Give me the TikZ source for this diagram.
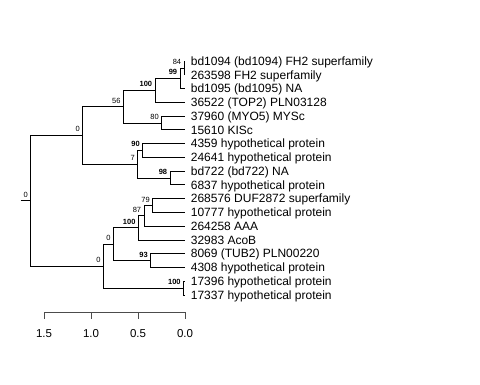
\documentclass[tikz,border=0pt]{standalone}
\usepackage{fontspec}
\setmainfont{Liberation Sans}

\tikzset{
  tiplab/.style={anchor=base west,inner sep=0pt,xshift=5.5pt,yshift=-4.3pt,font=\fontsize{12}{12}\selectfont},
  supp/.style={anchor=base east,inner sep=0pt,xshift=-2.5pt,yshift=3.5pt,font=\fontsize{7.5}{7.5}\selectfont},
  bsupp/.style={supp,font=\fontsize{7.5}{7.5}\selectfont\bfseries},
  axlab/.style={anchor=center,inner sep=0pt,font=\fontsize{11.5}{11.5}\selectfont}
}

\begin{document}
\begin{tikzpicture}[x=1pt,y=-1pt,line width=0.75pt]
    \useasboundingbox (0,0) rectangle (480,384);
    % leaves
    \coordinate (l1) at (185,61);
    \coordinate (l2) at (185,74.8);
    \coordinate (l3) at (185,88.5);
    \coordinate (l4) at (185,102.3);
    \coordinate (l5) at (185,116);
    \coordinate (l6) at (185,129.8);
    \coordinate (l7) at (185,143.6);
    \coordinate (l8) at (185,157.3);
    \coordinate (l9) at (185,171.1);
    \coordinate (l10) at (185,184.8);
    \coordinate (l11) at (185,198.6);
    \coordinate (l12) at (185,212.4);
    \coordinate (l13) at (185,226.1);
    \coordinate (l14) at (185,239.9);
    \coordinate (l15) at (185,253.6);
    \coordinate (l16) at (185,267.4);
    \coordinate (l17) at (185,281.2);
    \coordinate (l18) at (185,294.9);
    % inner nodes
    \coordinate (nE) at (184,67.9);
    \coordinate (nD) at (180,78.2);
    \coordinate (nC) at (155,90.25);
    \coordinate (nF) at (161.7,122.9);
    \coordinate (nB) at (123.3,106.6);
    \coordinate (nH) at (142.7,150.45);
    \coordinate (nI) at (170,177.95);
    \coordinate (nG) at (137.7,164.2);
    \coordinate (nA) at (82.7,135.4);
    \coordinate (nN) at (152.7,205.5);
    \coordinate (nM) at (144,215.8);
    \coordinate (nL) at (138.3,227.85);
    \coordinate (nO) at (150.7,260.5);
    \coordinate (nK) at (113.3,244.2);
    \coordinate (nP) at (183.5,288.05);
    \coordinate (nJ) at (103.3,266.1);
    \coordinate (root) at (30.7,200.75);
    \coordinate (stub) at (20.7,200.75);

    % branches
    \draw (stub) -- (root);
    \draw (root) |- (nA);
    \draw (root) |- (nJ);
    \draw (nA) |- (nB);
    \draw (nA) |- (nG);
    \draw (nB) |- (nC);
    \draw (nB) |- (nF);
    \draw (nC) |- (nD);
    \draw (nC) |- (l4);
    \draw (nD) |- (nE);
    \draw (nD) |- (l3);
    \draw (nE) |- (l1);
    \draw (nE) |- (l2);
    \draw (nF) |- (l5);
    \draw (nF) |- (l6);
    \draw (nG) |- (nH);
    \draw (nG) |- (nI);
    \draw (nH) |- (l7);
    \draw (nH) |- (l8);
    \draw (nI) |- (l9);
    \draw (nI) |- (l10);
    \draw (nJ) |- (nK);
    \draw (nJ) |- (nP);
    \draw (nK) |- (nL);
    \draw (nK) |- (nO);
    \draw (nL) |- (nM);
    \draw (nL) |- (l14);
    \draw (nM) |- (nN);
    \draw (nM) |- (l13);
    \draw (nN) |- (l11);
    \draw (nN) |- (l12);
    \draw (nO) |- (l15);
    \draw (nO) |- (l16);
    \draw (nP) |- (l17);
    \draw (nP) |- (l18);

    % support values
    \node[supp] (sroot) at (root) {0};
    \node[supp] (sA) at (nA) {0};
    \node[supp] (sB) at (nB) {56};
    \node[bsupp] (sC) at (nC) {100};
    \node[bsupp] (sD) at (nD) {99};
    \node[supp] (sE) at (nE) {84};
    \node[supp] (sF) at (nF) {80};
    \node[supp] (sG) at (nG) {7};
    \node[bsupp] (sH) at (nH) {90};
    \node[bsupp] (sI) at (nI) {98};
    \node[supp] (sJ) at (nJ) {0};
    \node[supp] (sK) at (nK) {0};
    \node[bsupp] (sL) at (nL) {100};
    \node[supp] (sM) at (nM) {87};
    \node[supp] (sN) at (nN) {79};
    \node[bsupp] (sO) at (nO) {93};
    \node[bsupp] (sP) at (nP) {100};

    % tip labels
    \node[tiplab] (t1) at (l1) {bd1094 (bd1094) FH2 superfamily};
    \node[tiplab] (t2) at (l2) {263598 FH2 superfamily};
    \node[tiplab] (t3) at (l3) {bd1095 (bd1095) NA};
    \node[tiplab] (t4) at (l4) {36522 (TOP2) PLN03128};
    \node[tiplab] (t5) at (l5) {37960 (MYO5) MYSc};
    \node[tiplab] (t6) at (l6) {15610 KISc};
    \node[tiplab] (t7) at (l7) {4359 hypothetical protein};
    \node[tiplab] (t8) at (l8) {24641 hypothetical protein};
    \node[tiplab] (t9) at (l9) {bd722 (bd722) NA};
    \node[tiplab] (t10) at (l10) {6837 hypothetical protein};
    \node[tiplab] (t11) at (l11) {268576 DUF2872 superfamily};
    \node[tiplab] (t12) at (l12) {10777 hypothetical protein};
    \node[tiplab] (t13) at (l13) {264258 AAA};
    \node[tiplab] (t14) at (l14) {32983 AcoB};
    \node[tiplab] (t15) at (l15) {8069 (TUB2) PLN00220};
    \node[tiplab] (t16) at (l16) {4308 hypothetical protein};
    \node[tiplab] (t17) at (l17) {17396 hypothetical protein};
    \node[tiplab] (t18) at (l18) {17337 hypothetical protein};

    % scale axis
    \coordinate (a15) at (44,312);
    \coordinate (a10) at (91,312);
    \coordinate (a05) at (138,312);
    \coordinate (a00) at (185,312);
    \draw[black!70] (a15) -- (a00);
    \draw[black!70] (a15) -- ++(0,6.7);
    \draw[black!70] (a10) -- ++(0,6.7);
    \draw[black!70] (a05) -- ++(0,6.7);
    \draw[black!70] (a00) -- ++(0,6.7);
    \node[axlab] (x15) at (44,334) {1.5};
    \node[axlab] (x10) at (91,334) {1.0};
    \node[axlab] (x05) at (138,334) {0.5};
    \node[axlab] (x00) at (185,334) {0.0};
\end{tikzpicture}
\end{document}
